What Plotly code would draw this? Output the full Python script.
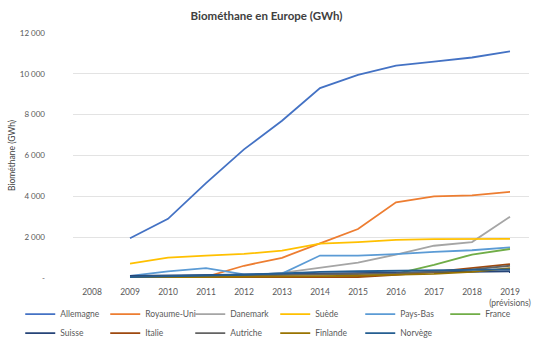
import plotly.graph_objects as go

years = ["2008", "2009", "2010", "2011", "2012", "2013", "2014", "2015", "2016", "2017", "2018", "2019<br>(prévisions)"]

allemagne   = [None, 1950, 2900, 4650, 6300, 7700, 9300, 9950, 10400, 10600, 10800, 11100]
royaume_uni = [None, 20, 30, 60, 600, 990, 1700, 2400, 3710, 4000, 4050, 4220]
danemark    = [None, 30, 60, 80, 120, 250, 500, 750, 1150, 1580, 1760, 3000]
suede       = [None, 700, 1000, 1100, 1180, 1340, 1680, 1760, 1870, 1900, 1900, 1920]
pays_bas    = [None, 100, 320, 480, 180, 220, 1100, 1100, 1170, 1280, 1360, 1500]
france      = [None, 0, 0, 0, 10, 20, 40, 80, 200, 640, 1150, 1420]
suisse      = [None, 100, 120, 140, 160, 180, 200, 220, 250, 280, 300, 330]
italie      = [None, 0, 0, 0, 0, 0, 10, 50, 150, 300, 500, 680]
autriche    = [None, 60, 80, 100, 120, 150, 180, 200, 220, 300, 420, 600]
finlande    = [None, 20, 30, 40, 50, 70, 90, 120, 150, 200, 300, 480]
norvege     = [None, 50, 80, 120, 160, 220, 300, 330, 350, 370, 390, 420]

names = ["Allemagne", "Royaume-Uni", "Danemark", "Suède", "Pays-Bas", "France",
         "Suisse", "Italie", "Autriche", "Finlande", "Norvège"]
series = [allemagne, royaume_uni, danemark, suede, pays_bas, france,
          suisse, italie, autriche, finlande, norvege]
colors = ["#4472C4", "#ED7D31", "#A5A5A5", "#FFC000", "#5B9BD5", "#70AD47",
          "#264478", "#9E480E", "#636363", "#997300", "#255E91"]

ytick_vals = [0, 2000, 4000, 6000, 8000, 10000, 12000]
ytick_text = ["-", "2 000", "4 000", "6 000", "8 000", "10 000", "12 000"]

fig = go.Figure()
for name, vals, col in zip(names, series, colors):
    fig.add_trace(go.Scatter(x=years, y=vals, name=name, mode="lines",
                             line=dict(color=col, width=1.8)))

font = "Lato, 'Open Sans', sans-serif"
fig.update_layout(
    width=533, height=349,
    margin=dict(l=73, r=2, t=33, b=70),
    paper_bgcolor="white", plot_bgcolor="white",
    font=dict(family=font, size=9, color="#595959"),
    title=dict(text="<b>Biométhane en Europe (GWh)</b>", x=0.5, xref="container",
               y=1 - 16/349, yanchor="middle",
               font=dict(size=11.5, color="#404040", family=font)),
    xaxis=dict(type="category", range=[-0.5, 11.5], showgrid=False,
               showline=False, ticks="", tickfont=dict(size=8.5, color="#595959"),
               ticklabelstandoff=7),
    yaxis=dict(range=[0, 12000], tickvals=ytick_vals, ticktext=ytick_text,
               showgrid=True, gridcolor="#E3E3E3", gridwidth=1, zeroline=False,
               tickfont=dict(size=8, color="#595959"), ticklabelstandoff=27,
               title=dict(text="Biométhane (GWh)", font=dict(size=8.5, color="#404040"),
                          standoff=2)),
    legend=dict(orientation="h", x=-0.1157, xanchor="left", y=-0.284, yanchor="bottom",
                entrywidth=40, entrywidthmode="pixels", tracegroupgap=0,
                font=dict(size=8.5, color="#595959"), itemwidth=30,
                bgcolor="rgba(0,0,0,0)"),
    showlegend=True,
)

fig.write_html("out.html")
